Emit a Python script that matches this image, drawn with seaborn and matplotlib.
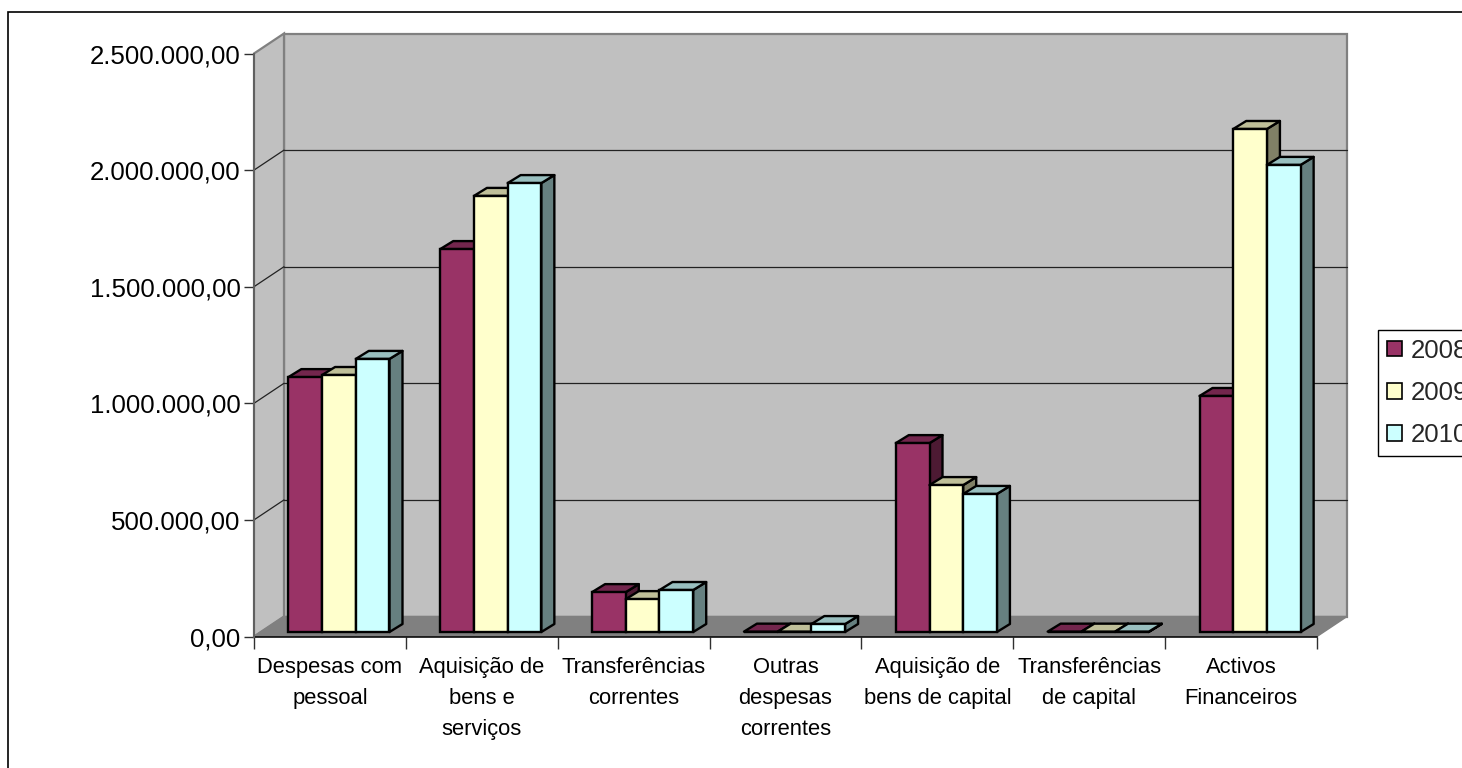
import matplotlib
matplotlib.use('Agg')
import matplotlib.pyplot as plt
import matplotlib.colors as mcolors
from matplotlib.patches import Polygon, Rectangle
from matplotlib.transforms import Affine2D
import pandas as pd
import seaborn as sns

# values
categories = ['Despesas com\npessoal', 'Aquisição de\nbens e\nserviços', 'Transferências\ncorrentes',
              'Outras\ndespesas\ncorrentes', 'Aquisição de\nbens de capital', 'Transferências\nde capital',
              'Activos\nFinanceiros']
values_2008 = [1093000, 1642000, 171000, 1500, 810000, 1500, 1012000]
values_2009 = [1102000, 1870000, 141000, 1500, 630000, 1500, 2157000]
values_2010 = [1171000, 1925000, 180000, 34000, 592000, 1500, 2003000]
years = ['2008', '2009', '2010']
colours = ['#993366', '#FFFFCC', '#CCFFFF']
y_ticks = [0, 500000, 1000000, 1500000, 2000000, 2500000]
y_labels = ['0,00', '500.000,00', '1.000.000,00', '1.500.000,00', '2.000.000,00', '2.500.000,00']

W, H = 1462, 768
sns.set_theme(style='white')
plt.rcParams['font.family'] = ['Liberation Sans', 'DejaVu Sans']

fig = plt.figure(figsize=(W / 100, H / 100), dpi=100, facecolor='white')
# front plane of the 3d box, in pixels
ax = fig.add_axes([254 / W, (H - 636.5) / H, 1063 / W, 583 / H])
ax.patch.set_alpha(0)

df = pd.DataFrame({'category': categories, '2008': values_2008, '2009': values_2009, '2010': values_2010})
df = df.melt(id_vars='category', var_name='year', value_name='value')

sns.barplot(data=df, x='category', y='value', hue='year', hue_order=years, palette=colours,
            order=categories, saturation=1, width=0.666, edgecolor='black', linewidth=1.7,
            legend=True, ax=ax)

ax.set_xlim(-0.5, 6.5)
ax.set_ylim(0, 2500000)
ax.set_xlabel('')
ax.set_ylabel('')

# walls and floor, moved back by the depth of the box
x0, x1 = ax.get_xlim()
y0, y1 = ax.get_ylim()
wall_dx, wall_dy = 30, 20
back = ax.transData + Affine2D().translate(wall_dx, wall_dy)
grey = '#808080'
wall = Rectangle((x0, y0), x1 - x0, y1 - y0, transform=back, facecolor='#C0C0C0', edgecolor=grey,
                 linewidth=1.6, zorder=0.2, clip_on=False)
ax.add_patch(wall)
disp = ax.transData.transform
inv = ax.transData.inverted().transform


def moved(x, y, dx, dy):
    px, py = disp((x, y))
    return inv((px + dx, py + dy))


side_wall = Polygon([(x0, y0), (x0, y1), moved(x0, y1, wall_dx, wall_dy), moved(x0, y0, wall_dx, wall_dy)],
                    facecolor='#C0C0C0', edgecolor=grey, linewidth=1.6, zorder=0.3, clip_on=False)
floor = Polygon([(x0, y0), (x1, y0), moved(x1, y0, wall_dx, wall_dy), moved(x0, y0, wall_dx, wall_dy)],
                facecolor=grey, edgecolor=grey, linewidth=1, zorder=0.4, clip_on=False)
ax.add_patch(side_wall)
ax.add_patch(floor)

for tick in y_ticks[1:-1]:
    ax.plot([x0, x1], [tick, tick], color='#222222', lw=0.9, transform=back, zorder=0.5, clip_on=False)
    ax.plot([x0, moved(x0, tick, wall_dx, wall_dy)[0]], [tick, moved(x0, tick, wall_dx, wall_dy)[1]],
            color='#222222', lw=0.9, zorder=0.5, clip_on=False)

# extrude each bar, front faces sit a little behind the axis plane
bar_shift = Affine2D().translate(9, 4.5)
bar_dx, bar_dy = 13, 8
z = 3
for group in range(len(categories)):
    for container, colour in zip(ax.containers, colours):
        bar = container[group]
        bx, by, bw, bh = bar.get_x(), bar.get_y(), bar.get_width(), bar.get_height()
        bar.set_transform(ax.transData + bar_shift)
        bar.set_zorder(z + 0.2)
        bar.set_clip_on(False)
        rgb = mcolors.to_rgb(colour)
        top_col = [c * 0.75 for c in rgb]
        side_col = [c * 0.5 for c in rgb]
        top = Polygon([(bx, by + bh), (bx + bw, by + bh), moved(bx + bw, by + bh, bar_dx, bar_dy),
                       moved(bx, by + bh, bar_dx, bar_dy)],
                      transform=ax.transData + bar_shift, facecolor=top_col, edgecolor='black',
                      linewidth=1.7, joinstyle='round', zorder=z + 0.1, clip_on=False)
        side = Polygon([(bx + bw, by), (bx + bw, by + bh), moved(bx + bw, by + bh, bar_dx, bar_dy),
                        moved(bx + bw, by, bar_dx, bar_dy)],
                       transform=ax.transData + bar_shift, facecolor=side_col, edgecolor='black',
                       linewidth=1.7, joinstyle='round', zorder=z, clip_on=False)
        ax.add_patch(side)
        ax.add_patch(top)
        z += 1

# axes
sns.despine(ax=ax, top=True, right=True)
ax.spines['left'].set_color('#606060')
ax.spines['left'].set_linewidth(1.4)
ax.spines['bottom'].set_color('black')
ax.spines['bottom'].set_linewidth(1.1)
ax.spines['bottom'].set_zorder(2)
ax.set_yticks(y_ticks)
ax.set_yticklabels(y_labels, fontsize=18.6, color='black')
ax.tick_params(axis='y', left=True, length=7.2, width=1, color='#303030', pad=2.5)
ax.set_xticks([i - 0.5 for i in range(len(categories) + 1)])
ax.set_xticklabels([''] * (len(categories) + 1))
ax.tick_params(axis='x', which='major', bottom=True, length=8.6, width=1, color='#303030')
ax.set_xticks(range(len(categories)), minor=True)
ax.set_xticklabels(categories, minor=True, fontsize=15.8, color='black', linespacing=1.62, ha='center')
ax.tick_params(axis='x', which='minor', bottom=False, length=0, pad=15)

leg = ax.legend(loc='upper left', bbox_to_anchor=(1378 / W, (H - 329.5) / H), bbox_transform=fig.transFigure,
                fontsize=18.6, frameon=True, fancybox=False, framealpha=1, edgecolor='black', facecolor='white',
                handlelength=0.55, handleheight=0.55, handletextpad=0.36, borderpad=0.36, borderaxespad=0,
                labelspacing=0.7, title=None)
leg.get_frame().set_linewidth(1)
leg.set_zorder(100)
for handle in leg.legend_handles:
    handle.set_linewidth(1.2)

# outer chart frame runs off the right edge
fig.add_artist(Rectangle((8 / W, 0 - 10 / H), (W + 20) / W, (H - 12 + 10) / H, transform=fig.transFigure,
                         facecolor='none', edgecolor='black', linewidth=1.2))

fig.savefig('out.png', dpi=100)
